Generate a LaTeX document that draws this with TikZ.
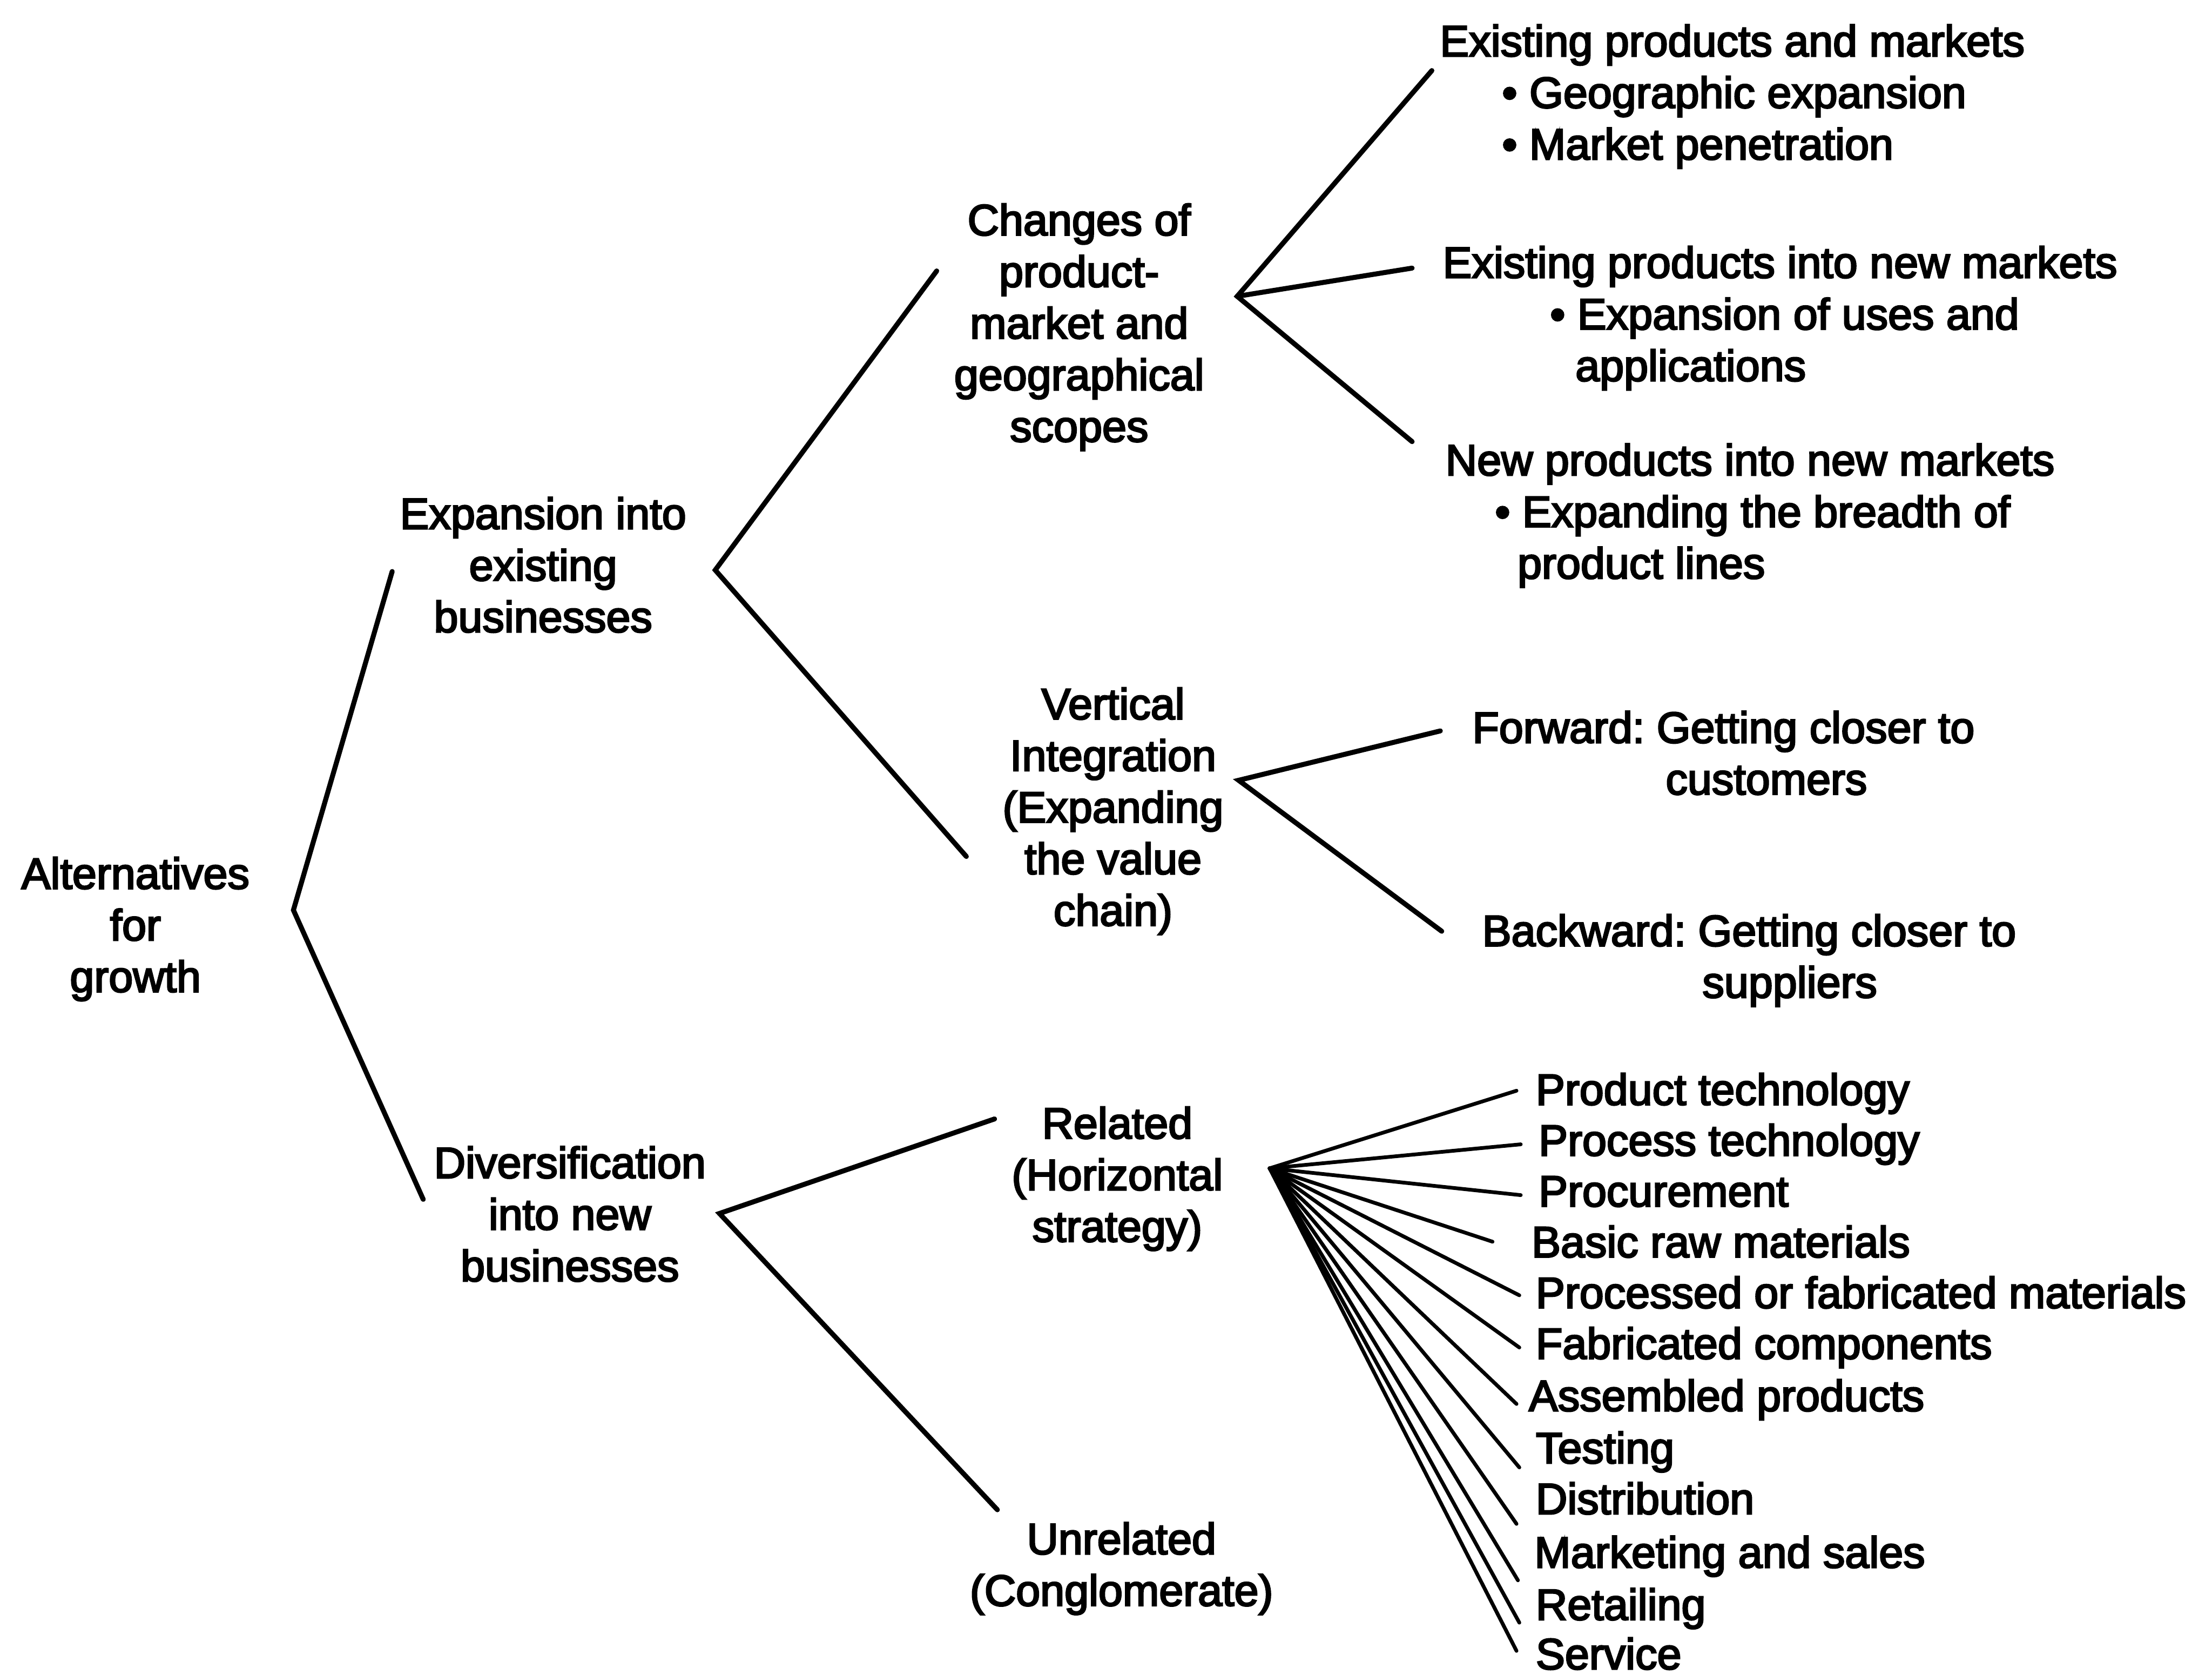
\documentclass[tikz,border=0pt]{standalone}
\usepackage{fontspec}
\setmainfont{Liberation Sans}[FakeBold=3.5]
\frenchspacing
\begin{document}
\begin{tikzpicture}[x=0.01cm,y=-0.01cm,
  every node/.style={font=\fontsize{8.8}{10.4}\selectfont, inner sep=0pt},
  % multi-line nodes are placed by the baseline of their last line
  topic/.style={align=center, anchor=base},
  leaf/.style={align=left, anchor=base west},
  branch/.style={line width=1pt, line join=miter, line cap=round},
  twig/.style={line width=0.75pt, line cap=round}]
\useasboundingbox (0,0) rectangle (1568,1187);

% ---- topic nodes ----
\node[topic] (root)  at (96,703)   {Alternatives\\for\\growth};
\node[topic] (exp)   at (385,448)  {Expansion into\\existing\\businesses};
\node[topic] (div)   at (404,908)  {Diversification\\into new\\businesses};
\node[topic] (chg)   at (765,313)  {Changes of\\product-\\market and\\geographical\\scopes};
\node[topic] (vert)  at (789,656)  {Vertical\\Integration\\(Expanding\\the value\\chain)};
\node[topic] (rel)   at (792,880)  {Related\\(Horizontal\\strategy)};
\node[topic] (unrel) at (795,1138) {Unrelated\\(Conglomerate)};

% ---- product-market leaves ----
\node[leaf] (epm) at (1020,113) {Existing products and markets\\\hspace*{0.44cm}\textbullet\ Geographic expansion\\\hspace*{0.44cm}\textbullet\ Market penetration};
\node[leaf] (epn) at (1022,270) {Existing products into new markets\\\hspace*{0.76cm}\textbullet\ Expansion of uses and\\\hspace*{0.94cm}applications};
\node[leaf] (npn) at (1024,410) {New products into new markets\\\hspace*{0.35cm}\textbullet\ Expanding the breadth of\\\hspace*{0.51cm}product lines};

% ---- vertical integration leaves ----
\node[leaf] (fwd) at (1043,563) {Forward: Getting closer to\\\hspace*{1.37cm}customers};
\node[leaf] (bwd) at (1050,707) {Backward: Getting closer to\\\hspace*{1.56cm}suppliers};

% ---- bracket vertices and line ends ----
\coordinate (rootV) at (208,645);
\coordinate (rootT) at (278,405);
\coordinate (rootB) at (300,850);
\coordinate (expV)  at (507,404);
\coordinate (expT)  at (664,192);
\coordinate (expB)  at (685,607);
\coordinate (divV)  at (510,860);
\coordinate (divT)  at (705,793);
\coordinate (divB)  at (707,1070);
\coordinate (chgV)  at (877,210);
\coordinate (chgA)  at (1015,50);
\coordinate (chgB)  at (1001,190);
\coordinate (chgC)  at (1001,313);
\coordinate (vertV) at (878,553);
\coordinate (vertA) at (1021,518);
\coordinate (vertB) at (1022,660);
\coordinate (relV)  at (900,828);

\draw[branch] (rootT) -- (rootV) -- (rootB);
\draw[branch] (expT) -- (expV) -- (expB);
\draw[branch] (divT) -- (divV) -- (divB);
\draw[branch] (chgA) -- (chgV) -- (chgC);
\draw[branch] (chgV) -- (chgB);
\draw[branch] (vertA) -- (vertV) -- (vertB);

% ---- horizontal-strategy fan ----
\foreach \i/\tx/\ty/\ex/\ey/\t in {
  1/1088/783/1075/773/Product technology,
  2/1090/819/1078/811/Process technology,
  3/1090/855/1078/847/Procurement,
  4/1085/891/1058/880/Basic raw materials,
  5/1088/927/1077/918/Processed or fabricated materials,
  6/1088/963/1077/955/Fabricated components,
  7/1083/1000/1075/995/Assembled products,
  8/1088/1037/1077/1040/Testing,
  9/1088/1073/1075/1080/Distribution,
  10/1087/1111/1076/1120/Marketing and sales,
  11/1088/1148/1077/1150/Retailing,
  12/1088/1183/1075/1170/Service}{
  \node[leaf] (f\i) at (\tx,\ty) {\t};
  \coordinate (fe\i) at (\ex,\ey);
  \draw[twig] (relV) -- (fe\i);
}
\end{tikzpicture}
\end{document}
